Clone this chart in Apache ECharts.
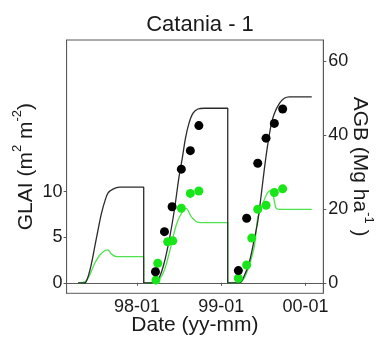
<!DOCTYPE html>
<html>
<head>
<meta charset="utf-8">
<script src="https://cdn.jsdelivr.net/npm/echarts@6/dist/echarts.min.js"></script>
<style>
  html, body { margin: 0; padding: 0; background: #fff; }
  #chart { width: 379px; height: 339px; }
</style>
</head>
<body>
<div id="chart"></div>
<script>
// Simulated above-ground biomass (Mg ha-1), three seasons
const simAgbDates = [
  '1997-04-21','1997-05-20','1997-06-03','1997-06-18','1997-07-02','1997-07-16','1997-07-31',
  '1997-08-14','1997-08-28','1997-09-19','1997-10-18','1998-01-30','1998-01-30',
  '1998-03-18','1998-04-09','1998-04-30','1998-05-22','1998-06-13','1998-07-01','1998-07-16',
  '1998-07-30','1998-08-14','1998-08-31','1998-09-22','1998-10-21','1999-01-29','1999-01-29',
  '1999-03-21','1999-04-12','1999-05-03','1999-05-25','1999-06-08','1999-06-23','1999-07-07',
  '1999-07-21','1999-08-05','1999-08-19','1999-09-10','1999-10-01','1999-10-23','2000-01-28'
];
const simAgbValues = [
  0, 0, 1.65, 5.3, 9.8, 14.3, 18.8,
  22.0, 24.3, 25.4, 25.9, 25.9, 0,
  0, 1.65, 5.7, 12.1, 20.2, 28.3, 33.7,
  39.2, 43.2, 45.9, 47.1, 47.3, 47.3, 0,
  0, 2.1, 5.7, 12.1, 16.6, 23.8, 31.0,
  37.3, 42.8, 45.9, 48.6, 50.0, 50.4, 50.4
];

// Simulated green leaf area index (m2 m-2)
const simGlaiDates = [
  '1997-04-21','1997-05-20','1997-06-10','1997-07-02','1997-07-24','1997-08-14','1997-08-28',
  '1997-09-12','1997-10-04','1998-01-30','1998-01-30',
  '1998-03-18','1998-04-09','1998-04-30','1998-05-22','1998-06-20','1998-07-12','1998-08-02',
  '1998-08-24','1998-09-15','1998-10-06','1999-01-29','1999-01-29',
  '1999-03-21','1999-04-12','1999-05-03','1999-05-25','1999-06-08','1999-06-30','1999-07-21',
  '1999-08-05','1999-08-16','1999-08-26','1999-09-10','2000-01-28'
];
const simGlaiValues = [
  0, 0.1, 0.86, 2.14, 3.05, 3.52, 3.6,
  3.16, 2.86, 2.86, 0,
  0, 0.4, 1.4, 3.4, 6.34, 7.6, 8.17,
  7.25, 6.7, 6.6, 6.6, 0,
  0, 0.6, 1.95, 4.1, 7.1, 8.7, 9.9,
  10.1, 9.3, 8.2, 8.06, 8.06
];

// Measured AGB
const obsAgbDates = [
  '1998-03-22','1998-04-30','1998-06-02','1998-07-12','1998-08-20','1998-09-26',
  '1999-03-16','1999-04-21','1999-06-08','1999-07-14','1999-08-19','1999-09-24'
];
const obsAgbValues = [3.0, 13.85, 20.6, 30.8, 35.8, 42.6, 3.3, 17.5, 32.4, 39.2, 43.2, 47.1];

// Measured GLAI
const obsGlaiDates = [
  '1998-03-24','1998-04-01','1998-05-14','1998-06-05','1998-07-12','1998-08-20','1998-09-26',
  '1999-03-16','1999-04-21','1999-05-13','1999-06-08','1999-07-14','1999-08-19','1999-09-24'
];
const obsGlaiValues = [0.3, 2.14, 4.5, 4.6, 8.17, 9.8, 10.07, 0.5, 1.95, 4.9, 8.06, 8.5, 9.9, 10.3];

// Axis ticks
const xTickDates = ['1998-01-01', '1999-01-01', '2000-01-01'];
const glaiTicks = [0, 5, 10];
const agbTicks = [0, 20, 40, 60];

const ts = s => Date.UTC(+s.slice(0, 4), +s.slice(5, 7) - 1, +s.slice(8, 10));
const pair = (d, v) => d.map((x, i) => [ts(x), v[i]]);
const pad2 = n => (n < 10 ? '0' : '') + n;

const FONT = 'Liberation Sans, Arial, Helvetica, sans-serif';
const TXT = '#1a1a1a';
const FRAME = '#595959';

const chart = echarts.init(document.getElementById('chart'), null, { renderer: 'canvas' });

chart.setOption({
  animation: false,
  backgroundColor: '#fff',
  title: {
    text: 'Catania - 1',
    left: 195,
    textAlign: 'center',
    top: 9,
    textStyle: { fontFamily: FONT, fontSize: 22, fontWeight: 'normal', color: TXT }
  },
  grid: {
    left: 66.6, right: 55.7, top: 40, bottom: 45.7,
    containLabel: false, outerBoundsMode: 'none',
    show: true, borderColor: FRAME, borderWidth: 1, backgroundColor: '#fff'
  },
  xAxis: {
    type: 'value',
    min: ts('1997-03-02'),
    max: ts('2000-03-18'),
    name: 'Date (yy-mm)',
    nameLocation: 'middle',
    nameGap: 21,
    nameMoveOverlap: false,
    nameTextStyle: { fontFamily: FONT, fontSize: 21, color: TXT },
    axisLine: { show: true, lineStyle: { color: FRAME, width: 1 } },
    axisTick: { show: true, length: 3, lineStyle: { color: FRAME }, customValues: xTickDates.map(ts) },
    axisLabel: {
      fontFamily: FONT, fontSize: 18, color: TXT, margin: 5,
      customValues: xTickDates.map(ts),
      formatter: v => { const d = new Date(v); return pad2(d.getUTCFullYear() % 100) + '-' + pad2(d.getUTCMonth() + 1); }
    },
    splitLine: { show: false }
  },
  yAxis: [
    {
      type: 'value',
      position: 'left',
      min: -1.15, max: 26.62,
      name: '{n|GLAI (m}{s|2}{n| m}{s|-2}{n|)}',
      nameLocation: 'middle',
      nameGap: 30,
      nameMoveOverlap: false,
      nameTextStyle: {
        fontFamily: FONT, fontSize: 21, color: TXT,
        rich: {
          n: { fontFamily: FONT, fontSize: 21, color: TXT, lineHeight: 26, verticalAlign: 'bottom' },
          s: { fontFamily: FONT, fontSize: 13, color: TXT, lineHeight: 26, verticalAlign: 'top' }
        }
      },
      axisLine: { show: true, lineStyle: { color: FRAME, width: 1 } },
      axisTick: { show: true, length: 3, lineStyle: { color: FRAME }, customValues: glaiTicks },
      axisLabel: { fontFamily: FONT, fontSize: 18, color: TXT, margin: 4, customValues: glaiTicks },
      splitLine: { show: false }
    },
    {
      type: 'value',
      position: 'right',
      min: -2.85, max: 65.8,
      name: '{n|AGB (Mg ha}{s|-1}{n| )}',
      nameLocation: 'middle',
      nameRotate: -90,
      nameGap: 26,
      nameMoveOverlap: false,
      nameTextStyle: {
        fontFamily: FONT, fontSize: 21, color: TXT,
        rich: {
          n: { fontFamily: FONT, fontSize: 21, color: TXT, lineHeight: 26, verticalAlign: 'bottom' },
          s: { fontFamily: FONT, fontSize: 13, color: TXT, lineHeight: 26, verticalAlign: 'top' }
        }
      },
      axisLine: { show: true, lineStyle: { color: FRAME, width: 1 } },
      axisTick: { show: true, length: 3, lineStyle: { color: FRAME }, customValues: agbTicks },
      axisLabel: { fontFamily: FONT, fontSize: 18, color: TXT, margin: 5, customValues: agbTicks },
      splitLine: { show: false }
    }
  ],
  series: [
    {
      name: 'Simulated GLAI', type: 'line', yAxisIndex: 0,
      data: pair(simGlaiDates, simGlaiValues),
      showSymbol: false, symbol: 'none', smooth: 0.3,
      lineStyle: { color: '#4ee34e', width: 1.3 }, z: 2
    },
    {
      name: 'Simulated AGB', type: 'line', yAxisIndex: 1,
      data: pair(simAgbDates, simAgbValues),
      showSymbol: false, symbol: 'none', smooth: 0.3,
      lineStyle: { color: '#2b2b2b', width: 1.3 }, z: 3
    },
    {
      name: 'Measured GLAI', type: 'scatter', yAxisIndex: 0,
      data: pair(obsGlaiDates, obsGlaiValues),
      symbol: 'circle', symbolSize: 9,
      itemStyle: { color: '#19e619', opacity: 1 }, z: 4
    },
    {
      name: 'Measured AGB', type: 'scatter', yAxisIndex: 1,
      data: pair(obsAgbDates, obsAgbValues),
      symbol: 'circle', symbolSize: 9,
      itemStyle: { color: '#000000', opacity: 1 }, z: 5
    }
  ]
});
</script>
</body>
</html>
